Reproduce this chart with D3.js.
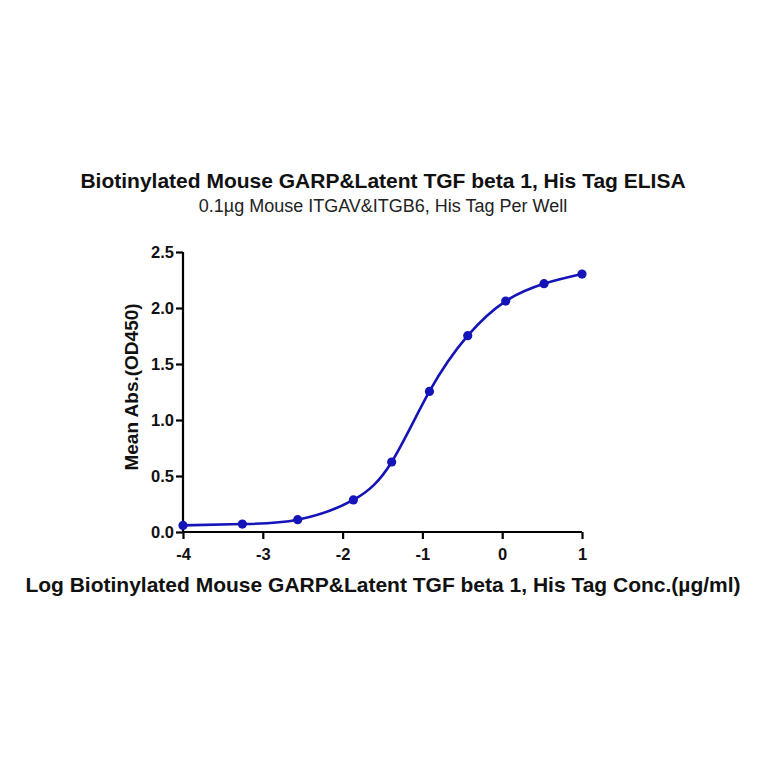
<!DOCTYPE html>
<html>
<head>
<meta charset="utf-8">
<script src="https://cdn.jsdelivr.net/npm/d3@7"></script>
<style>
  body { margin: 0; background: #fff; }
  text { font-family: "Liberation Sans", Arial, sans-serif; }
</style>
</head>
<body>
<svg id="chart" width="764" height="764"></svg>
<script>
// log concentration (ug/ml) and mean OD450
var logConc = [-4, -3.256, -2.563, -1.865, -1.385, -0.912, -0.432, 0.044, 0.524, 1.0];
var meanAbs = [0.059, 0.071, 0.11, 0.286, 0.625, 1.255, 1.753, 2.062, 2.217, 2.303];

var xTicks = [-4, -3, -2, -1, 0, 1];
var yTicks = [0, 0.5, 1.0, 1.5, 2.0, 2.5];

var title = "Biotinylated Mouse GARP&Latent TGF beta 1, His Tag ELISA";
var subtitle = "0.1\u00b5g Mouse ITGAV&ITGB6, His Tag Per Well";
var xLabel = "Log Biotinylated Mouse GARP&Latent TGF beta 1, His Tag Conc.(\u00b5g/ml)";
var yLabel = "Mean Abs.(OD450)";

var blue = "#1414b8";

var svg = d3.select("#chart"),
    margin = {top: 252, right: 182, bottom: 232, left: 183},
    width = +svg.attr("width") - margin.left - margin.right,
    height = +svg.attr("height") - margin.top - margin.bottom,
    g = svg.append("g").attr("transform", "translate(" + margin.left + "," + margin.top + ")");

var x = d3.scaleLinear().domain([-4, 1]).range([0, width]);
var y = d3.scaleLinear().domain([0, 2.5]).range([height, 0]);

// axes (plain hyphen for negatives, like the original)
var xAxis = g.append("g")
    .attr("transform", "translate(0," + height + ")")
    .call(d3.axisBottom(x).tickValues(xTicks).tickSize(7).tickPadding(9)
        .tickFormat(function (d) { return String(d); }));

var yAxis = g.append("g")
    .call(d3.axisLeft(y).tickValues(yTicks).tickSize(7).tickPadding(2).tickFormat(d3.format(".1f")));

[xAxis, yAxis].forEach(function (a) {
    a.select(".domain").attr("stroke", "#000").attr("stroke-width", 2.2);
    a.selectAll(".tick line").attr("stroke", "#000").attr("stroke-width", 2.2);
    a.selectAll(".tick text")
        .attr("fill", "#111")
        .style("font-size", "16.5px")
        .style("font-weight", "bold");
});
// no outer tick caps on the domain paths
xAxis.select(".domain").attr("d", "M0,0H" + width);
yAxis.select(".domain").attr("d", "M0," + height + "V0");
yAxis.selectAll(".tick text").attr("dy", "0.36em");

// curve
var pts = logConc.map(function (v, i) { return [v, meanAbs[i]]; });
var line = d3.line()
    .curve(d3.curveNatural)
    .x(function (d) { return x(d[0]); })
    .y(function (d) { return y(d[1]); });

g.append("path")
    .datum(pts)
    .attr("fill", "none")
    .attr("stroke", blue)
    .attr("stroke-width", 2.6)
    .attr("d", line);

g.selectAll("circle")
    .data(pts)
    .enter().append("circle")
    .attr("cx", function (d) { return x(d[0]); })
    .attr("cy", function (d) { return y(d[1]); })
    .attr("r", 4.6)
    .attr("fill", blue);

// titles
svg.append("text")
    .attr("x", 383).attr("y", 188)
    .attr("text-anchor", "middle")
    .attr("fill", "#111")
    .style("font-size", "21px").style("font-weight", "bold")
    .text(title);

svg.append("text")
    .attr("x", 383).attr("y", 212)
    .attr("text-anchor", "middle")
    .attr("fill", "#222")
    .style("font-size", "18px")
    .text(subtitle);

svg.append("text")
    .attr("x", 383).attr("y", 592)
    .attr("text-anchor", "middle")
    .attr("fill", "#111")
    .style("font-size", "21px").style("font-weight", "bold")
    .text(xLabel);

svg.append("text")
    .attr("transform", "translate(138,387) rotate(-90)")
    .attr("text-anchor", "middle")
    .attr("fill", "#111")
    .style("font-size", "19px").style("font-weight", "bold")
    .text(yLabel);
</script>
</body>
</html>
